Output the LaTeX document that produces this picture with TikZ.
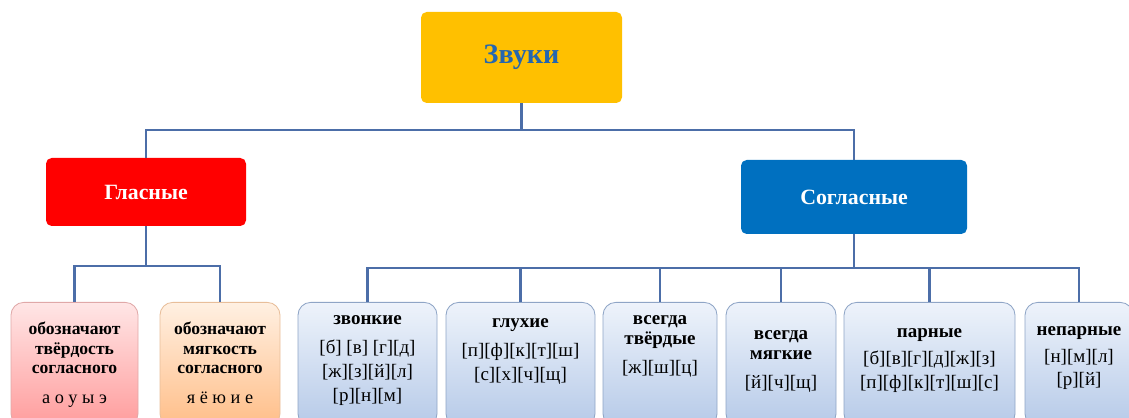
\documentclass[tikz,border=0pt]{standalone}
\usepackage{fontspec}
\setmainfont{Liberation Serif}
\usepackage{xcolor}
\usetikzlibrary{positioning}

\definecolor{zvukiFill}{HTML}{FFC000}
\definecolor{zvukiText}{HTML}{2466B0}
\definecolor{glasFill}{HTML}{FF0000}
\definecolor{soglFill}{HTML}{0070C0}
\definecolor{linkBlue}{HTML}{4C6EA8}
\definecolor{pinkTop}{HTML}{FFE6E6}
\definecolor{pinkBot}{HTML}{FF9C9C}
\definecolor{pinkEdge}{HTML}{E0A8A8}
\definecolor{peachTop}{HTML}{FFF0E2}
\definecolor{peachBot}{HTML}{FFBE88}
\definecolor{peachEdge}{HTML}{E8BE9A}
\definecolor{skyTop}{HTML}{EEF3FB}
\definecolor{skyBot}{HTML}{B6CAE8}
\definecolor{skyEdge}{HTML}{8FA5C6}

\newcommand\hdfont{\fontsize{13.5}{15}\selectfont\bfseries}
\newcommand\rwfont{\fontsize{13.5}{17}\selectfont}

\begin{document}
\begin{tikzpicture}[
    x=0.025cm, y=-0.025cm,
    wd/.style={minimum width=#1*0.025cm},
    ht/.style={minimum height=#1*0.025cm},
    head/.style={rectangle, rounded corners=4pt, fill=#1, inner sep=0pt,
                 font=\fontsize{15.5}{17}\selectfont\bfseries, text=white},
    leaf/.style={rectangle, rounded corners=9pt, draw=#1Edge, line width=0.6pt,
                 top color=#1Top, bottom color=#1Bot, anchor=north,
                 minimum height=3.1cm, inner sep=0pt},
    caption/.style={align=center, anchor=base, inner sep=0pt, font=\rwfont},
    link/.style={draw=linkBlue, line width=2pt},
]
    \useasboundingbox (0,0) rectangle (1129,418);

    % top level
    \node[head=zvukiFill, wd=201, ht=91, text=zvukiText,
          font=\fontsize{20}{22}\selectfont\bfseries] (zvuki) at (521.5,57.5) {Звуки};
    \node[head=glasFill, wd=200, ht=68] (glas) at (146,192) {Гласные};
    \node[head=soglFill, wd=226, ht=74] (sogl) at (854,197) {Согласные};

    % vowel leaves
    \node[leaf=pink, wd=127] (tverd) at (74.5,302) {};
    \node[leaf=peach, wd=120] (myagk) at (220,302) {};

    % consonant leaves
    \node[leaf=sky, wd=139] (zv) at (367.5,302) {};
    \node[leaf=sky, wd=149] (gl) at (520.5,302) {};
    \node[leaf=sky, wd=114] (tv) at (660,302) {};
    \node[leaf=sky, wd=110] (mg) at (781,302) {};
    \node[leaf=sky, wd=171] (par) at (929.5,302) {};
    \node[leaf=sky, wd=108] (nep) at (1079,302) {};

    % captions (placed by the baseline of their last line)
    \node[caption, font=\fontsize{12.5}{13.8}\selectfont\bfseries] (tverdT) at (74.5,403)
        {обозначают\\твёрдость\\согласного\\[7pt]{\mdseries\fontsize{13}{14}\selectfont а о у ы э}};
    \node[caption, font=\fontsize{12.5}{13.8}\selectfont\bfseries] (myagkT) at (220,403)
        {обозначают\\мягкость\\согласного\\[7pt]{\mdseries\fontsize{13}{14}\selectfont я ё ю и е}};
    \node[caption] (zvT) at (367.5,401) {{\hdfont звонкие}\\[3.5pt]{}[б] [в] [г][д]\\{}[ж][з][й][л]\\{}[р][н][м]};
    \node[caption] (glT) at (520.5,380) {{\hdfont глухие}\\[3.5pt]{}[п][ф][к][т][ш]\\{}[с][х][ч][щ]};
    \node[caption] (tvT) at (660,373) {{\hdfont всегда}\\[-3pt]{\hdfont твёрдые}\\[3.5pt]{}[ж][ш][ц]};
    \node[caption] (mgT) at (781,388) {{\hdfont всегда}\\[-3pt]{\hdfont мягкие}\\[3.5pt]{}[й][ч][щ]};
    \node[caption] (parT) at (929.5,388) {{\hdfont парные}\\[2pt]{}[б][в][г][д][ж][з]\\{}[п][ф][к][т][ш][с]};
    \node[caption] (nepT) at (1079,385) {{\hdfont непарные}\\[2pt]{}[н][м][л]\\[-1pt]{}[р][й]};

    % connectors
    \coordinate (busTop) at (521.5,130);
    \coordinate (busGlas) at (146,266);
    \coordinate (busSogl) at (854,268);

    \draw[link] (zvuki.south) -- (busTop);
    \draw[link] (glas.north) |- (busTop) -| (sogl.north);

    \draw[link] (glas.south) -- (busGlas);
    \draw[link] (tverd.north) |- (busGlas) -| (myagk.north);

    \draw[link] (sogl.south) -- (busSogl);
    \foreach \leafname in {zv, gl, tv, mg, par, nep}
        \draw[link] (\leafname.north) |- (busSogl);
\end{tikzpicture}
\end{document}
